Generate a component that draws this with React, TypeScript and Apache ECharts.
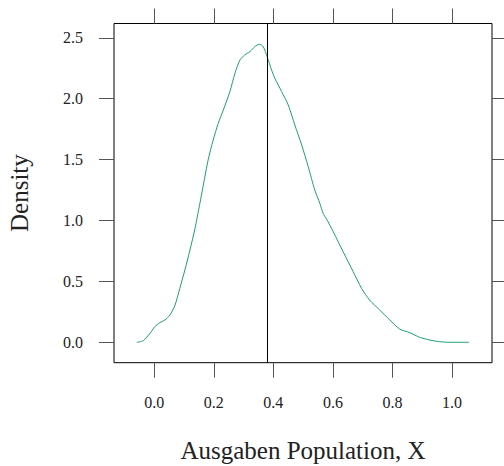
import React, { useEffect, useRef } from "react";
import * as echarts from "echarts";

const xValues = [
  -0.059, -0.037, -0.014, 0.002, 0.019, 0.036, 0.053, 0.07, 0.086, 0.103, 0.12, 0.137, 0.156,
  0.181, 0.198, 0.215, 0.232, 0.254, 0.271, 0.288, 0.304, 0.321, 0.338, 0.352, 0.366, 0.379, 0.394,
  0.405, 0.428, 0.45, 0.472, 0.495, 0.517, 0.539, 0.556, 0.567, 0.579, 0.601, 0.634, 0.668, 0.696,
  0.723, 0.757, 0.791, 0.824, 0.858, 0.891, 0.925, 0.958, 0.992, 1.057,
];
const densityValues = [
  0.0, 0.013, 0.074, 0.128, 0.161, 0.183, 0.224, 0.306, 0.443, 0.594, 0.758, 0.936, 1.175,
  1.497, 1.661, 1.798, 1.907, 2.057, 2.208, 2.318, 2.359, 2.386, 2.427, 2.447, 2.427, 2.345, 2.236,
  2.167, 2.057, 1.948, 1.784, 1.62, 1.442, 1.25, 1.141, 1.059, 1.01, 0.908, 0.744, 0.58, 0.443,
  0.347, 0.265, 0.183, 0.109, 0.079, 0.041, 0.019, 0.005, 0.0, 0.0,
];
const xTicks = [0.0, 0.2, 0.4, 0.6, 0.8, 1.0];
const yTicks = [0.0, 0.5, 1.0, 1.5, 2.0, 2.5];
const referenceLine = 0.378;
const xTitle = "Ausgaben Population, X";
const yTitle = "Density";

const FONT = "'Liberation Serif', 'Times New Roman', serif";
const TICK_COLOR = "#555";

export default function App() {
  const ref = useRef<HTMLDivElement>(null);
  useEffect(() => {
    if (!ref.current) return;
    const chart = echarts.init(ref.current, undefined, { renderer: "svg" });
    const xMin = -0.135;
    const xMax = 1.134;
    const yMin = -0.1675;
    const yMax = 2.617;
    const tickCommon = { show: true, inside: false, length: 15, lineStyle: { color: TICK_COLOR, width: 1 } };
    const lineHidden = { show: false, onZero: false };
    chart.setOption({
      animation: false,
      backgroundColor: "#ffffff",
      textStyle: { fontFamily: FONT },
      grid: {
        left: 114,
        right: 12,
        top: 23.5,
        bottom: 103.3,
        show: true,
        borderColor: "#000",
        borderWidth: 1,
        backgroundColor: "transparent",
        containLabel: false,
        outerBoundsMode: "none",
      },
      xAxis: [
        {
          type: "value",
          min: xMin,
          max: xMax,
          position: "bottom",
          splitLine: { show: false },
          axisLine: lineHidden,
          axisTick: { ...tickCommon, customValues: xTicks },
          axisLabel: {
            customValues: xTicks,
            formatter: (v: number) => v.toFixed(1),
            fontFamily: FONT,
            fontSize: 16,
            color: "#222",
            margin: 32,
          },
          name: xTitle,
          nameLocation: "middle",
          nameGap: 75,
          nameTextStyle: { fontFamily: FONT, fontSize: 25, color: "#222" },
        },
        {
          type: "value",
          min: xMin,
          max: xMax,
          position: "top",
          splitLine: { show: false },
          axisLine: lineHidden,
          axisTick: { ...tickCommon, customValues: xTicks },
          axisLabel: { show: false },
        },
      ],
      yAxis: [
        {
          type: "value",
          min: yMin,
          max: yMax,
          position: "left",
          splitLine: { show: false },
          axisLine: lineHidden,
          axisTick: { ...tickCommon, customValues: yTicks },
          axisLabel: {
            customValues: yTicks,
            formatter: (v: number) => v.toFixed(1),
            fontFamily: FONT,
            fontSize: 16,
            color: "#222",
            margin: 31,
          },
          name: yTitle,
          nameLocation: "middle",
          nameGap: 82,
          nameRotate: 90,
          nameTextStyle: { fontFamily: FONT, fontSize: 25, color: "#222" },
        },
        {
          type: "value",
          min: yMin,
          max: yMax,
          position: "right",
          splitLine: { show: false },
          axisLine: lineHidden,
          axisTick: { ...tickCommon, customValues: yTicks },
          axisLabel: { show: false },
        },
      ],
      series: [
        {
          type: "line",
          xAxisIndex: 0,
          yAxisIndex: 0,
          data: xValues.map((x, i) => [x, densityValues[i]]),
          showSymbol: false,
          symbol: "none",
          smooth: 0.25,
          lineStyle: { color: "#1b9e77", width: 1 },
          markLine: {
            silent: true,
            symbol: "none",
            label: { show: false },
            lineStyle: { color: "#000", width: 1, type: "solid" },
            data: [{ xAxis: referenceLine }],
          },
        },
      ],
    });
    return () => chart.dispose();
  }, []);
  return (
    <div
      ref={ref}
      style={{ position: "fixed", left: 0, top: 0, width: 504, height: 466, background: "#fff" }}
    />
  );
}
